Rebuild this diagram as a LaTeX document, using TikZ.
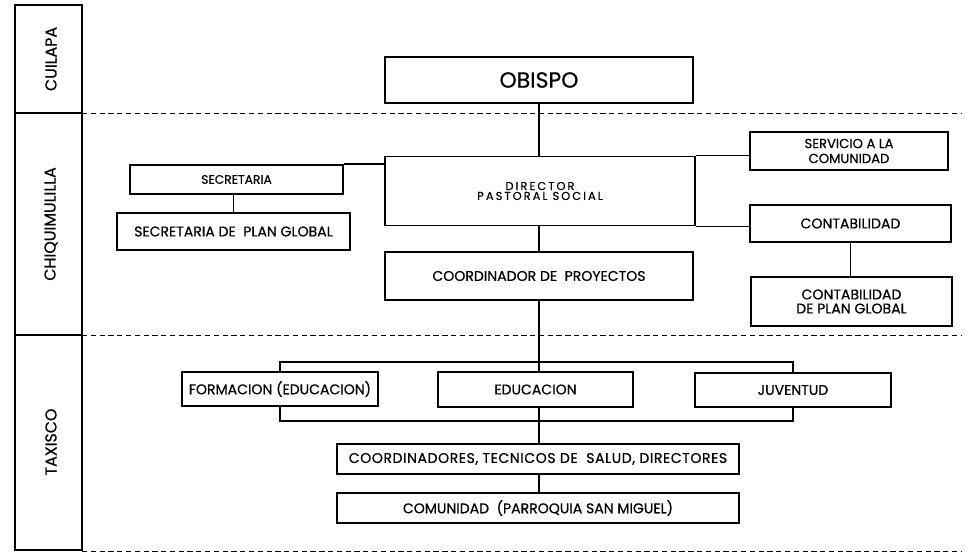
\documentclass[tikz,border=0pt]{standalone}
\usepackage{fontspec}
\setmainfont{Poppins}[FakeBold=0.5]
\usetikzlibrary{backgrounds}

\begin{document}
\begin{tikzpicture}[x=0.2mm, y=-0.2mm,
    caja/.style={draw, fill=white, line width=1.1pt, inner sep=0pt, align=center,
        font=\fontsize{8}{9}\selectfont},
    zona/.style={rotate=90, font=\fontsize{9}{10}\selectfont},
    linea/.style={line width=1pt},
    limite/.style={densely dashed, line width=0.5pt}]
    \useasboundingbox (0,0) rectangle (965,554);
    % Columna de zonas
    \draw[line width=1.2pt] (15,5) rectangle (82,550);
    \draw[line width=1.2pt] (15,113) -- (82,113);
    \draw[line width=1.2pt] (15,335) -- (82,335);
    \node[zona] (cuilapa) at (51,59) {CUILAPA};
    \node[zona] (chiqui) at (51,224) {CHIQUIMULILLA};
    \node[zona] (taxisco) at (51,442) {TAXISCO};
    % Limites entre zonas
    \draw[limite] (82,113) -- (962,113);
    \draw[limite] (82,335) -- (962,335);
    \draw[limite] (82,551) -- (962,551);

    % Cajas
    \node[caja, minimum width=61.6mm, minimum height=9.2mm,
        font=\fontsize{12.5}{13}\selectfont] (obispo) at (539,80) {OBISPO};
    \node[caja, minimum width=62mm, minimum height=13.8mm,
        font=\fontsize{6.5}{4.6}\selectfont\addfontfeature{LetterSpace=18}] (director) at (540,191)
        {DIRECTOR\\PASTORAL SOCIAL};
    \node[caja, minimum width=42.6mm, minimum height=5.8mm,
        font=\fontsize{7}{8}\selectfont] (secretaria) at (236.5,179.5)
        {SECRETARIA};
    \node[caja, minimum width=46.6mm, minimum height=7.4mm] (secplan) at (233.5,231.5)
        {SECRETARIA DE\ \ PLAN GLOBAL};
    \node[caja, minimum width=39.6mm, minimum height=7.6mm,
        font=\fontsize{7.5}{8.5}\selectfont] (servicio) at (849,151)
        {SERVICIO A LA\\COMUNIDAD};
    \node[caja, minimum width=40.2mm, minimum height=7.4mm] (contab) at (850.5,223.5)
        {CONTABILIDAD};
    \node[caja, minimum width=40.2mm, minimum height=9.8mm,
        font=\fontsize{8}{8}\selectfont] (contplan) at (851.5,301.5)
        {CONTABILIDAD\\DE PLAN GLOBAL};
    \node[caja, minimum width=61.6mm, minimum height=9.6mm] (coord) at (539,276)
        {COORDINADOR DE\ \ PROYECTOS};
    \node[caja, minimum width=39.2mm, minimum height=6.8mm] (formacion) at (280,389)
        {FORMACION (EDUCACION)};
    \node[caja, minimum width=39mm, minimum height=7mm] (educacion) at (535.5,389.5)
        {EDUCACION};
    \node[caja, minimum width=39.2mm, minimum height=6.8mm] (juventud) at (793,390)
        {JUVENTUD};
    \node[caja, minimum width=80.4mm, minimum height=6mm,
        font=\fontsize{8}{9}\selectfont\addfontfeature{LetterSpace=4}] (coordinadores) at (538,459)
        {COORDINADORES, TECNICOS DE\ \ SALUD, DIRECTORES};
    \node[caja, minimum width=80.4mm, minimum height=6mm] (comunidad) at (538,508)
        {COMUNIDAD\ \ (PARROQUIA SAN MIGUEL)};

    % Conectores
    \draw[linea] (obispo.south) -- (obispo.south |- director.north);
    \draw[linea] (secretaria.north east) -- (secretaria.north east -| director.west);
    \draw[linea] (secplan.north) -- (secplan.north |- secretaria.south);
    \draw[linea] (director.north east) -- (director.north east -| servicio.west);
    \draw[linea] (director.south east) -- (director.south east -| contab.west);
    \draw[linea] (contab.south) -- (contab.south |- contplan.north);
    \draw[linea] (coord.north) -- (coord.north |- director.south);
    \coordinate (ramasup) at (541,362);
    \coordinate (ramainf) at (541,421);
    \begin{scope}[on background layer]
        \draw[linea] (formacion.center) |- (ramasup) -| (juventud.center);
        \draw[linea] (formacion.center) |- (ramainf) -| (juventud.center);
        \draw[linea] (coord.south) -- (coord.south |- comunidad.north);
    \end{scope}
\end{tikzpicture}
\end{document}
